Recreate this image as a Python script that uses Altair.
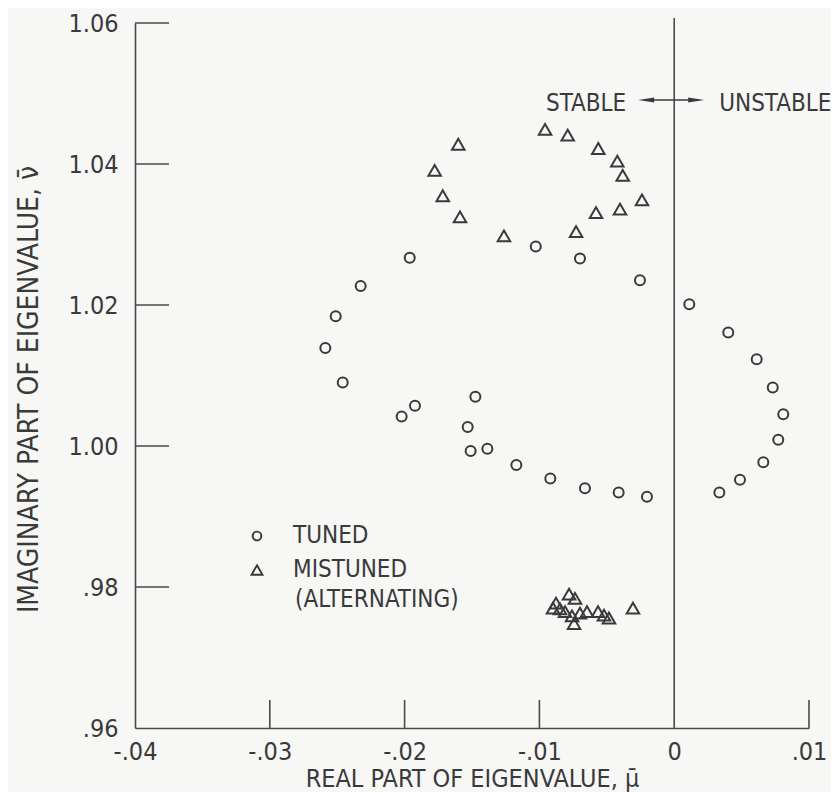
import altair as alt
import pandas as pd

# ---- data ----
tuned_x = [-0.01962, -0.01027, -0.00699, -0.00254, -0.02326, -0.02511, -0.02588,
           -0.02459, -0.01475, -0.01923, -0.02022, -0.01532, -0.01510, -0.01386,
           -0.01171, -0.00919, -0.00662, -0.00412, -0.00202, 0.00112, 0.00401,
           0.00612, 0.00731, 0.00809, 0.00772, 0.00661, 0.00488, 0.00335]
tuned_y = [1.0267, 1.0283, 1.0266, 1.0235, 1.0227, 1.0184, 1.0139,
           1.0090, 1.0070, 1.0057, 1.0042, 1.0027, 0.9993, 0.9996,
           0.9973, 0.9954, 0.9940, 0.9934, 0.9928, 1.0201, 1.0161,
           1.0123, 1.0083, 1.0045, 1.0009, 0.9977, 0.9952, 0.9934]

mistuned_x = [-0.01777, -0.01717, -0.01602, -0.01589, -0.01263, -0.00958, -0.00790,
              -0.00728, -0.00580, -0.00563, -0.00422, -0.00402, -0.00382, -0.00239,
              -0.00780, -0.00736, -0.00877, -0.00899, -0.00847, -0.00810, -0.00758,
              -0.00743, -0.00699, -0.00647, -0.00565, -0.00521, -0.00484, -0.00306]
mistuned_y = [1.0391, 1.0355, 1.0428, 1.0325, 1.0298, 1.0449, 1.0441,
              1.0304, 1.0331, 1.0422, 1.0404, 1.0336, 1.0384, 1.0349,
              0.9790, 0.9784, 0.9777, 0.9770, 0.9769, 0.9765, 0.9759,
              0.9748, 0.9763, 0.9765, 0.9765, 0.9760, 0.9756, 0.9770]

series_names = ["TUNED", "MISTUNED"]
legend_extra = "(ALTERNATING)"

x_tick_values = [-0.04, -0.03, -0.02, -0.01, 0.0, 0.01]
x_tick_labels = ["-.04", "-.03", "-.02", "-.01", "0", ".01"]
y_tick_values = [0.96, 0.98, 1.00, 1.02, 1.04, 1.06]
y_tick_labels = [".96", ".98", "1.00", "1.02", "1.04", "1.06"]

x_title = "REAL PART OF EIGENVALUE, \u03bc\u0304"
y_title = "IMAGINARY PART OF EIGENVALUE, \u03bd\u0304"

# ---- build tables ----
groups = [series_names[0]] * len(tuned_x) + [series_names[1]] * len(mistuned_x)
pts = pd.DataFrame({
    "mu": tuned_x + mistuned_x,
    "nu": tuned_y + mistuned_y,
    "group": groups,
})
xt = pd.DataFrame({"mu": [v for v in x_tick_values if v not in (x_tick_values[0], 0.0)]})
yt = pd.DataFrame({"nu": [v for v in y_tick_values if v != y_tick_values[0]]})


def label_expr(values, labels):
    expr = "''"
    for v, l in reversed(list(zip(values, labels))):
        expr = f"abs(datum.value - ({v})) < 1e-9 ? '{l}' : ({expr})"
    return expr


FONT = "DejaVu Sans Condensed"
INK = "#3a3a3a"
LINE = "#4a4a4a"
W, H = 674, 705
TRIANGLE = "M 0 -1.08 L 1.25 1.08 L -1.25 1.08 Z"

xscale = alt.Scale(domain=[x_tick_values[0], x_tick_values[-1]], nice=False, zero=False)
yscale = alt.Scale(domain=[y_tick_values[0], y_tick_values[-1]], nice=False, zero=False)

xaxis = alt.Axis(values=x_tick_values, labelExpr=label_expr(x_tick_values, x_tick_labels),
                 title=x_title, grid=False, ticks=False, tickSize=0,
                 labelPadding=31, labelBaseline="alphabetic",
                 labelFont=FONT, labelFontSize=25, labelColor=INK,
                 titleFont=FONT, titleFontSize=25, titleFontWeight="normal",
                 titleColor=INK, titleBaseline="alphabetic", titleY=58,
                 domainColor=LINE, domainWidth=1.6, labelFlush=False,
                 labelOverlap=False)
yaxis = alt.Axis(values=y_tick_values, labelExpr=label_expr(y_tick_values, y_tick_labels),
                 title=y_title, grid=False, ticks=False, tickSize=0,
                 labelPadding=17, labelAlign="right", labelBaseline="middle",
                 labelFont=FONT, labelFontSize=25, labelColor=INK,
                 titleFont=FONT, titleFontSize=28, titleFontWeight="normal",
                 titleColor=INK, titleAngle=-90, titleAlign="center",
                 titleBaseline="alphabetic", titleX=-98, titleY=366,
                 domainColor=LINE, domainWidth=1.6, labelFlush=False,
                 labelOverlap=False)

points = alt.Chart(pts).mark_point(filled=False, strokeWidth=2, color=INK, opacity=1,
                                   size=100).encode(
    x=alt.X("mu:Q", scale=xscale, axis=xaxis, title=x_title),
    y=alt.Y("nu:Q", scale=yscale, axis=yaxis, title=y_title),
    shape=alt.Shape("group:N",
                    scale=alt.Scale(domain=series_names, range=["circle", TRIANGLE]),
                    legend=alt.Legend(title=None, orient="none", legendX=110, legendY=501,
                                      labelFont=FONT, labelFontSize=24, labelColor=INK,
                                      symbolSize=76, symbolStrokeWidth=1.9,
                                      symbolStrokeColor=INK, symbolFillColor="transparent",
                                      labelOffset=24, rowPadding=10)),
)

xticks = alt.Chart(xt).mark_rule(color=LINE, strokeWidth=1.6).encode(
    x=alt.X("mu:Q", scale=xscale, title=x_title),
    y=alt.value(H), y2=alt.value(H - 28),
)
yticks = alt.Chart(yt).mark_rule(color=LINE, strokeWidth=1.6).encode(
    y=alt.Y("nu:Q", scale=yscale, title=y_title),
    x=alt.value(0), x2=alt.value(34),
)
zero_line = alt.Chart().mark_rule(color=LINE, strokeWidth=1.6).encode(
    x=alt.datum(0), y=alt.value(-5), y2=alt.value(H),
)
arrow = alt.Chart().mark_rule(color=INK, strokeWidth=1.4, xOffset=-30, x2Offset=24).encode(
    x=alt.datum(0), x2=alt.datum(0), y=alt.value(77),
)
head_l = alt.Chart().mark_point(shape="M -1 0 L 1 -0.32 L 1 0.32 Z", filled=True, size=256,
                                color=INK, opacity=1, xOffset=-28).encode(
    x=alt.datum(0), y=alt.value(77))
head_r = alt.Chart().mark_point(shape="M 1 0 L -1 -0.32 L -1 0.32 Z", filled=True, size=256,
                                color=INK, opacity=1, xOffset=22).encode(
    x=alt.datum(0), y=alt.value(77))
stable = alt.Chart().mark_text(text="STABLE", align="right", baseline="alphabetic", dx=-48,
                               font=FONT, fontSize=24, color=INK).encode(
    x=alt.datum(0), y=alt.value(88))
unstable = alt.Chart().mark_text(text="UNSTABLE", align="left", baseline="alphabetic", dx=45,
                                 font=FONT, fontSize=24, color=INK).encode(
    x=alt.datum(0), y=alt.value(88))
alt_text = alt.Chart().mark_text(text=legend_extra, align="left", baseline="alphabetic",
                                 font=FONT, fontSize=24, color=INK).encode(
    x=alt.value(160), y=alt.value(584))

chart = alt.layer(
    points, xticks, yticks, zero_line, arrow, head_l, head_r, stable, unstable, alt_text
).properties(
    width=W, height=H,
    autosize=alt.AutoSizeParams(type="none"),
    padding={"left": 127, "top": 15, "right": 22, "bottom": 64},
    background="#f7f7f5",
).configure_view(stroke=None)

chart.save("out.html", embed_options={"renderer": "svg", "actions": False})
